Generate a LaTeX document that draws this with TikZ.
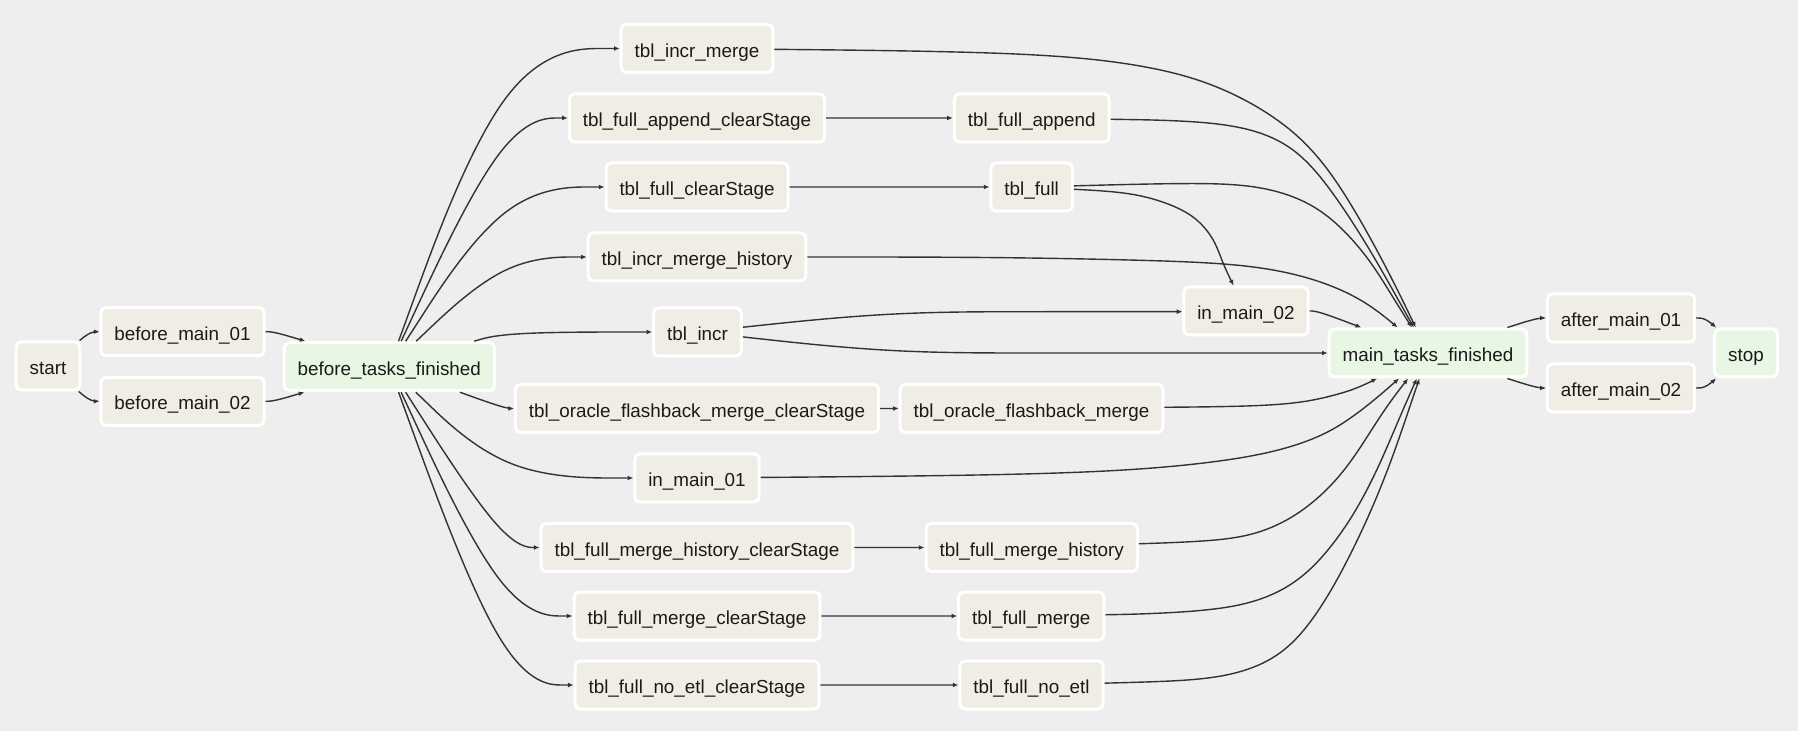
\documentclass[tikz,border=0pt]{standalone}
\usepackage{fontspec}
\setmainfont{Liberation Sans}
\usetikzlibrary{calc,arrows.meta}
\definecolor{bgc}{HTML}{EEEEEE}
\definecolor{taskc}{HTML}{F0EDE4}
\definecolor{gatec}{HTML}{E8F7E4}
\definecolor{edgec}{HTML}{333333}
\definecolor{txtc}{HTML}{1A1A1A}

% dagre-style basis spline: source node, waypoints x/y list, target node
\newcommand\dagedge[3]{%
  \foreach \px/\py [count=\i] in {#2} {\coordinate (dq\i) at (\px,\py); \xdef\dgM{\i}}%
  \pgfmathtruncatemacro\dgN{\dgM+1}%
  \path (#1) -- (dq1) coordinate[pos=0] (dq0);%
  \path (dq\dgM) -- (#3) coordinate[pos=1] (dq\dgN);%
  \draw[conn] (#1) -- ($0.83333*(dq0)+0.16667*(dq1)$)
    \foreach \k [evaluate=\k as \ka using int(\k-2), evaluate=\k as \kb using int(\k-1)] in {2,...,\dgN} {
      .. controls ($0.66667*(dq\ka)+0.33333*(dq\kb)$) and ($0.33333*(dq\ka)+0.66667*(dq\kb)$) .. ($0.16667*(dq\ka)+0.66667*(dq\kb)+0.16667*(dq\k)$)
    }
    .. controls ($0.66667*(dq\dgM)+0.33333*(dq\dgN)$) and ($0.33333*(dq\dgM)+0.66667*(dq\dgN)$) .. ($0.16667*(dq\dgM)+0.83333*(dq\dgN)$) -- (#3);%
}

\begin{document}
\begin{tikzpicture}[x=0.5pt,y=-0.5pt,
  tasknode/.style={draw=white, line width=1.5pt, fill=taskc, rounded corners=2.5pt,
    inner xsep=6.75pt, inner ysep=0pt, minimum height=24pt,
    text height=9.6pt, text depth=1pt, text=txtc, font=\fontsize{9.42}{11}\selectfont},
  gatenode/.style={tasknode, fill=gatec},
  conn/.style={draw=edgec, line width=0.7pt, -{Latex[length=2.8pt,width=2.4pt]}}]

\fill[bgc] (0,0) rectangle (1798,731);
\useasboundingbox (0,0) rectangle (1798,731);

% left part
\node[tasknode] (start) at (48,366) {start};
\node[tasknode] (bm1) at (182.5,331.7) {before\_main\_01};
\node[tasknode] (bm2) at (182.5,401.3) {before\_main\_02};
\node[gatenode] (btf) at (389.3,366.7) {before\_tasks\_finished};

% first column
\node[tasknode] (tim) at (697,48.5) {tbl\_incr\_merge};
\node[tasknode] (tfacs) at (697,118) {tbl\_full\_append\_clearStage};
\node[tasknode] (tfcs) at (697,187) {tbl\_full\_clearStage};
\node[tasknode] (timh) at (697,257) {tbl\_incr\_merge\_history};
\node[tasknode] (ti) at (697.5,332) {tbl\_incr};
\node[tasknode] (tfocs) at (697,408.5) {tbl\_oracle\_flashback\_merge\_clearStage};
\node[tasknode] (im1) at (697,478) {in\_main\_01};
\node[tasknode] (tfmhcs) at (697,547.5) {tbl\_full\_merge\_history\_clearStage};
\node[tasknode] (tfmcs) at (697,616) {tbl\_full\_merge\_clearStage};
\node[tasknode] (tfnecs) at (697,685) {tbl\_full\_no\_etl\_clearStage};

% second column
\node[tasknode] (tfa) at (1031.7,118) {tbl\_full\_append};
\node[tasknode] (tf) at (1031.7,187) {tbl\_full};
\node[tasknode] (tfo) at (1031.5,408.5) {tbl\_oracle\_flashback\_merge};
\node[tasknode] (tfmh) at (1031.7,547.5) {tbl\_full\_merge\_history};
\node[tasknode] (tfm) at (1031.3,616) {tbl\_full\_merge};
\node[tasknode] (tfne) at (1031.5,685) {tbl\_full\_no\_etl};

% right part
\node[tasknode] (im2) at (1246,311) {in\_main\_02};
\node[gatenode] (mtf) at (1428,353) {main\_tasks\_finished};
\node[tasknode] (am1) at (1621,318) {after\_main\_01};
\node[tasknode] (am2) at (1621,388) {after\_main\_02};
\node[gatenode] (stop) at (1746,353) {stop};

% connectors
\dagedge{start}{90.5/331.7}{bm1}
\dagedge{start}{90.5/401.3}{bm2}
\dagedge{bm1}{274/331.7}{btf}
\dagedge{bm2}{274/401.3}{btf}

\dagedge{btf}{505/48.5}{tim}
\dagedge{btf}{505/118}{tfacs}
\dagedge{btf}{505/187}{tfcs}
\dagedge{btf}{505/257}{timh}
\dagedge{btf}{505/332}{ti}
\dagedge{btf}{505/408.5}{tfocs}
\dagedge{btf}{505/478}{im1}
\dagedge{btf}{505/547.5}{tfmhcs}
\dagedge{btf}{505/616}{tfmcs}
\dagedge{btf}{505/685}{tfnecs}

\dagedge{tfacs}{890/118}{tfa}
\dagedge{tfcs}{890/187}{tf}
\dagedge{tfocs}{890/408.5}{tfo}
\dagedge{tfmhcs}{890/547.5}{tfmh}
\dagedge{tfmcs}{890/616}{tfm}
\dagedge{tfnecs}{890/685}{tfne}

\dagedge{tim}{1028/52,1143/64,1222/85,1298/130,1343/188,1388/270}{mtf}
\dagedge{tfa}{1220/121,1280/137,1318/170,1362/236,1390/285}{mtf}
\dagedge{tf}{1181/183,1252/184,1302/198,1336/221,1369/258,1392/296}{mtf}
\dagedge{tf}{1125/192,1160/200,1195/215,1215/240,1222/262}{im2}
\dagedge{timh}{990/257,1143/260,1250/264,1318/279,1366/301}{mtf}
\dagedge{ti}{890/311.7,1032/311.7,1172.7/311.7}{im2}
\dagedge{ti}{890/353,1032/353,1172.7/353,1246/353}{mtf}
\dagedge{im2}{1318/311}{mtf}
\dagedge{tfo}{1250/406.5,1302/403,1336/395,1358/388}{mtf}
\dagedge{im1}{990/475.5,1143/470.5,1250/458,1302/444,1336/429,1370/404}{mtf}
\dagedge{tfmh}{1220/541,1262/533,1300/514,1334/484,1358/452,1385/408}{mtf}
\dagedge{tfm}{1150/614,1235/609,1285/591,1319/563,1352/519,1378/469,1398/421}{mtf}
\dagedge{tfne}{1150/682,1218/679,1268/664,1302/636,1335/586,1368/519,1391/462,1407/415}{mtf}

\dagedge{mtf}{1537/318}{am1}
\dagedge{mtf}{1537/388}{am2}
\dagedge{am1}{1705/318}{stop}
\dagedge{am2}{1705/388}{stop}
\end{tikzpicture}
\end{document}
